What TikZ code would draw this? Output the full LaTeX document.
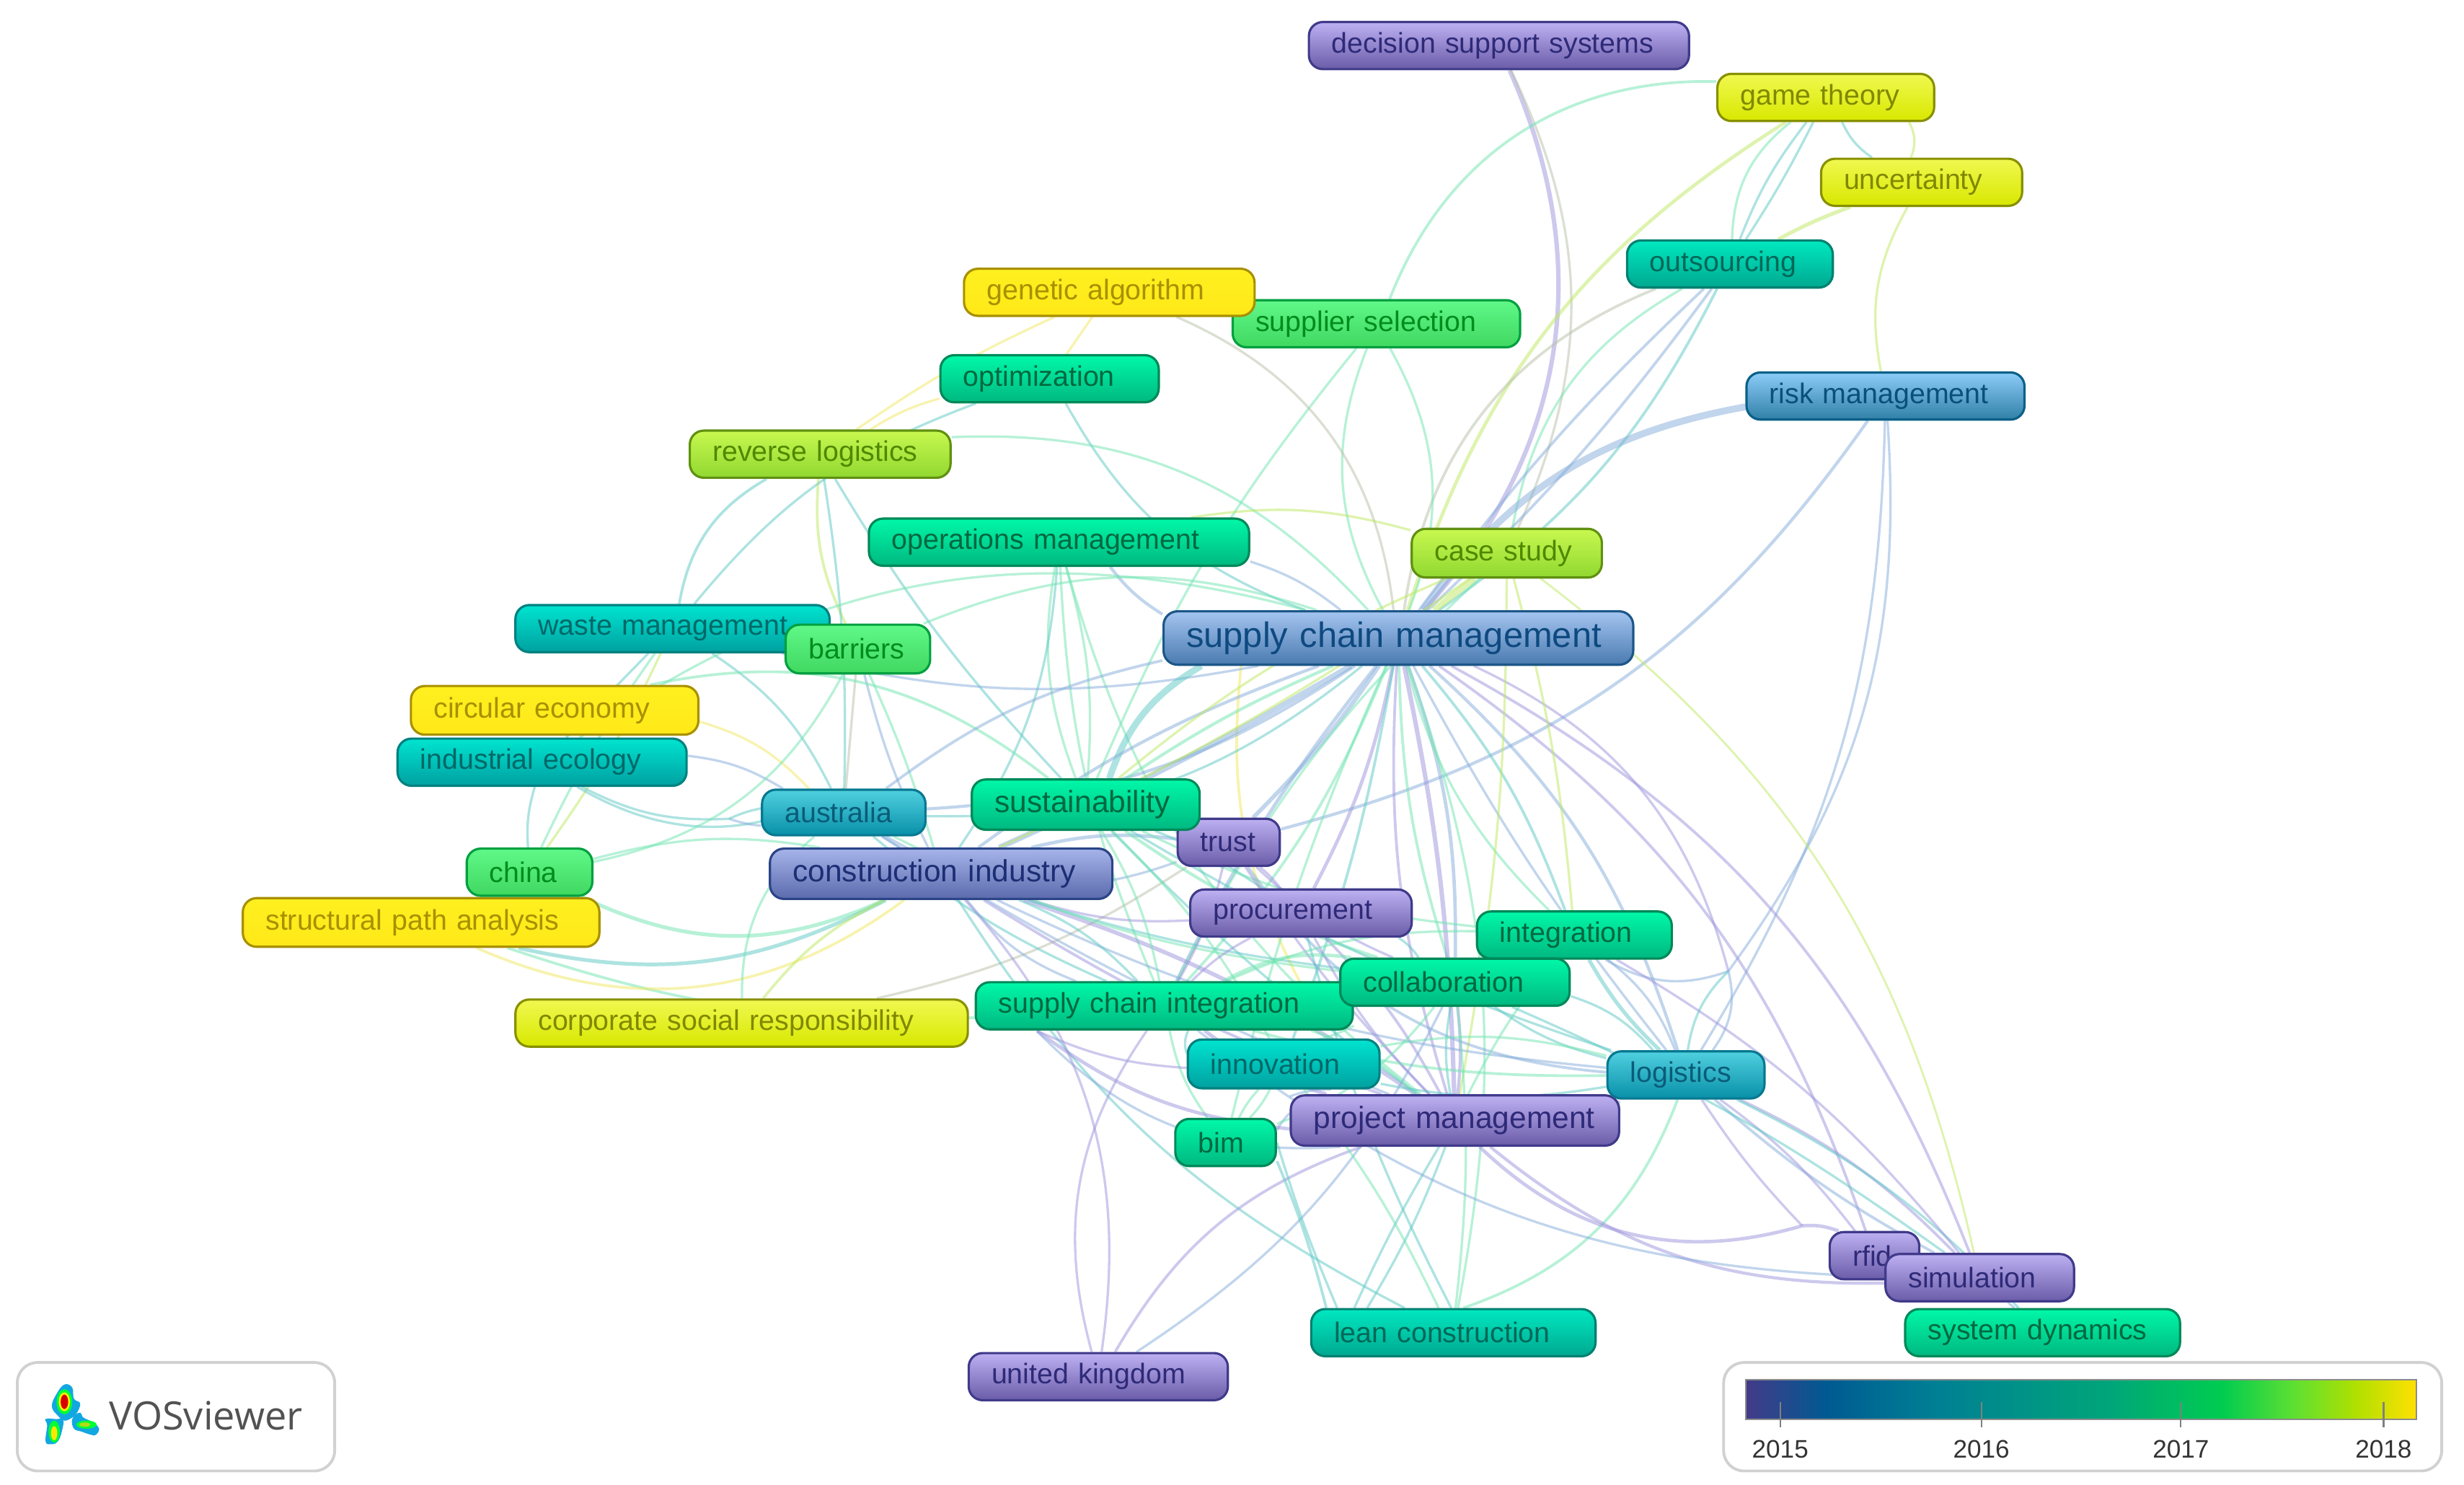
\documentclass[tikz,border=0pt]{standalone}
\usepackage{fontspec}
\setmainfont{Liberation Sans}
\newfontfamily\vosfont{Open Sans}
\usetikzlibrary{backgrounds}

% keyword box colours: top, bottom, border, text
\definecolor{purpleTop}{HTML}{BDB0F2}\definecolor{purpleBot}{HTML}{6A5CA8}\definecolor{purpleEdge}{HTML}{403A8A}\definecolor{purpleTxt}{HTML}{2E2A78}
\definecolor{slateTop}{HTML}{A6B4EA}\definecolor{slateBot}{HTML}{5A6AAC}\definecolor{slateEdge}{HTML}{2C4488}\definecolor{slateTxt}{HTML}{1C2E74}
\definecolor{blueTop}{HTML}{A4C4F0}\definecolor{blueBot}{HTML}{4A7AB0}\definecolor{blueEdge}{HTML}{1C5688}\definecolor{blueTxt}{HTML}{0E4A80}
\definecolor{skyTop}{HTML}{8CCCF8}\definecolor{skyBot}{HTML}{3080A8}\definecolor{skyEdge}{HTML}{0A6088}\definecolor{skyTxt}{HTML}{0A5078}
\definecolor{cyanTop}{HTML}{50D0E0}\definecolor{cyanBot}{HTML}{0890A8}\definecolor{cyanEdge}{HTML}{087890}\definecolor{cyanTxt}{HTML}{0A5C78}
\definecolor{tealTop}{HTML}{00E4D0}\definecolor{tealBot}{HTML}{00A0A0}\definecolor{tealEdge}{HTML}{008080}\definecolor{tealTxt}{HTML}{006868}
\definecolor{seaTop}{HTML}{00E8C0}\definecolor{seaBot}{HTML}{00A890}\definecolor{seaEdge}{HTML}{008070}\definecolor{seaTxt}{HTML}{006858}
\definecolor{greenTop}{HTML}{00F8A8}\definecolor{greenBot}{HTML}{00B880}\definecolor{greenEdge}{HTML}{008858}\definecolor{greenTxt}{HTML}{006840}
\definecolor{leafTop}{HTML}{60F888}\definecolor{leafBot}{HTML}{40D860}\definecolor{leafEdge}{HTML}{00A040}\definecolor{leafTxt}{HTML}{008C1E}
\definecolor{limeTop}{HTML}{C8F850}\definecolor{limeBot}{HTML}{90D830}\definecolor{limeEdge}{HTML}{609010}\definecolor{limeTxt}{HTML}{508800}
\definecolor{oliveTop}{HTML}{F0F850}\definecolor{oliveBot}{HTML}{D8E800}\definecolor{oliveEdge}{HTML}{889000}\definecolor{oliveTxt}{HTML}{808800}
\definecolor{yellowTop}{HTML}{FFF020}\definecolor{yellowBot}{HTML}{FFE818}\definecolor{yellowEdge}{HTML}{A89000}\definecolor{yellowTxt}{HTML}{A89000}

% link colours
\definecolor{lkpurple}{HTML}{9C94DC}
\definecolor{lkblue}{HTML}{84ACDA}
\definecolor{lkteal}{HTML}{5CC8C4}
\definecolor{lkgreen}{HTML}{70E4B0}
\definecolor{lklime}{HTML}{BEE860}
\definecolor{lkyellow}{HTML}{F0E860}
\definecolor{lkgrey}{HTML}{B8C0A8}

% year scale
\definecolor{yrA}{HTML}{443A88}\definecolor{yrB}{HTML}{005A92}\definecolor{yrC}{HTML}{007F94}
\definecolor{yrD}{HTML}{00A57A}\definecolor{yrE}{HTML}{00CC50}\definecolor{yrF}{HTML}{60E030}
\definecolor{yrG}{HTML}{B0E000}\definecolor{yrH}{HTML}{FFE000}
\pgfdeclarehorizontalshading{yearbar}{100bp}{color(0bp)=(yrA); color(25bp)=(yrA); color(31bp)=(yrB);
  color(39bp)=(yrC); color(52bp)=(yrD); color(60.5bp)=(yrE); color(66bp)=(yrF); color(70.5bp)=(yrG);
  color(75bp)=(yrH); color(100bp)=(yrH)}

\tikzset{
  kw/.style n args={3}{rounded corners=5.5pt, line width=0.9pt, inner xsep=9pt, inner ysep=0pt,
    top color=#1Top, bottom color=#1Bot, draw=#1Edge, text=#1Txt, font=\fontsize{11.2}{13}\selectfont,
    minimum width=#2*0.6198pt, minimum height=#3*0.6198pt, text width=#2*0.6198pt-18pt, align=left},
  kwmid/.style={font=\fontsize{12.1}{14}\selectfont},
  kwbig/.style={font=\fontsize{13.9}{16}\selectfont},
  link/.style={opacity=0.5},
  legbox/.style={draw=black!18, line width=1.1pt, rounded corners=8pt, fill=white},
  yearlab/.style={text=black!80, font=\fontsize{10}{12}\selectfont, inner sep=0pt},
}

\begin{document}
\begin{tikzpicture}[x=0.02179cm, y=-0.02179cm]
    \useasboundingbox (0,0) rectangle (1568.2,944.9);

    % free ends where links pinch together
    \coordinate (pinchE) at (1100,618);
    \coordinate (pinchW) at (464,521);
    \coordinate (pinchS) at (660,656);
    \coordinate (pinchR) at (1147,780);
    \coordinate (pinchN) at (790,423);
    \coordinate (pinchO) at (830,630);

    % keywords, later ones lie on top
    \node[kw={purple}{242}{30}] (dss) at (954,29) {decision support systems};
    \node[kw={olive}{138}{30}] (game) at (1162,62) {game theory};
    \node[kw={olive}{128}{30}] (uncert) at (1223,116) {uncertainty};
    \node[kw={sea}{131}{30}] (outsrc) at (1101,168) {outsourcing};
    \node[kw={leaf}{183}{30}] (suppl) at (876,206) {supplier selection};
    \node[kw={yellow}{185}{30}] (genalg) at (706,186) {genetic algorithm};
    \node[kw={green}{139}{30}] (optim) at (668,241) {optimization};
    \node[kw={sky}{177}{30}] (risk) at (1200,252) {risk management};
    \node[kw={lime}{166}{30}] (revlog) at (522,289) {reverse logistics};
    \node[kw={green}{242}{30}] (opsmgt) at (674,345) {operations management};
    \node[kw={lime}{121}{31}] (casest) at (959,352) {case study};
    \node[kw={teal}{200}{30}] (waste) at (428,400) {waste management};
    \node[kw={leaf}{92}{31}] (barr) at (546,413) {barriers};
    \node[kw={blue}{299}{34}, kwbig] (scm) at (890,406) {supply chain management};
    \node[kw={yellow}{183}{31}] (circ) at (353,452) {circular economy};
    \node[kw={teal}{184}{30}] (indeco) at (345,485) {industrial ecology};
    \node[kw={cyan}{104}{29}] (aus) at (537,517) {australia};
    \node[kw={purple}{65}{30}] (trust) at (782,536) {trust};
    \node[kw={green}{145}{32}, kwmid] (sust) at (691,512) {sustainability};
    \node[kw={slate}{218}{32}, kwmid] (cind) at (599,556) {construction industry};
    \node[kw={yellow}{227}{31}] (spa) at (268,587) {structural path analysis};
    \node[kw={leaf}{80}{30}] (china) at (337,555) {china};
    \node[kw={purple}{141}{30}] (proc) at (828,581) {procurement};
    \node[kw={green}{124}{30}] (integ) at (1002,595) {integration};
    \node[kw={green}{240}{30}] (sci) at (741,640) {supply chain integration};
    \node[kw={green}{146}{30}] (collab) at (926,625) {collaboration};
    \node[kw={olive}{288}{30}] (csr) at (472,651) {corporate social responsibility};
    \node[kw={teal}{122}{31}] (innov) at (817,677) {innovation};
    \node[kw={purple}{209}{32}, kwmid] (pm) at (926,713) {project management};
    \node[kw={cyan}{100}{30}] (logis) at (1073,684) {logistics};
    \node[kw={green}{64}{30}] (bim) at (780,727) {bim};
    \node[kw={purple}{57}{30}] (rfid) at (1193,799) {rfid};
    \node[kw={purple}{120}{30}] (simul) at (1260,813) {simulation};
    \node[kw={sea}{181}{30}] (lean) at (925,848) {lean construction};
    \node[kw={green}{175}{30}] (sysdyn) at (1300,848) {system dynamics};
    \node[kw={purple}{165}{30}] (uk) at (699,876) {united kingdom};

    % links: from/to/bend/colour/width
    \begin{scope}[on background layer]
    \foreach \frm/\tom/\bnd/\lkc/\lkw in {
        % top right
        dss/scm/33/lkpurple/1.3, dss/casest/25/lkgrey/0.7, game/scm/-20/lklime/1.0, game/suppl/-35/lkgreen/0.8,
        game/uncert/-15/lkteal/0.7, game/uncert/25/lklime/0.7, game/outsrc/-8/lkteal/0.7, game/outsrc/3/lkteal/0.7,
        game/outsrc/-25/lkgreen/0.7, uncert/outsrc/-4/lklime/1.1, uncert/risk/-20/lklime/0.7,
        outsrc/scm/-30/lkgrey/0.8, outsrc/casest/-25/lkgreen/0.7, outsrc/scm/-5/lkblue/0.8, outsrc/scm/5/lkblue/0.8,
        outsrc/scm/14/lkteal/0.8, risk/scm/-22/lkblue/2.0, risk/trust/20/lkblue/0.9, risk/logis/15/lkblue/0.7,
        risk/pinchE/20/lkblue/0.7, casest/scm/0/lklime/1.8, casest/simul/20/lklime/0.6,
        % top centre and left
        suppl/scm/25/lkgreen/0.7, suppl/scm/-25/lkgreen/0.7, suppl/sust/-8/lkgreen/0.7,
        genalg/scm/30/lkgrey/0.7, genalg/optim/0/lkyellow/0.7, genalg/revlog/-5/lkyellow/0.7, pinchN/pinchO/-17/lkyellow/0.8,
        optim/scm/-20/lkteal/0.7, revlog/scm/25/lkgreen/0.7, revlog/optim/8/lkyellow/0.7, revlog/barr/-15/lklime/0.8,
        revlog/waste/-25/lkteal/0.8, revlog/sust/-6/lkteal/0.7, revlog/aus/5/lkteal/0.7, waste/optim/15/lkteal/0.7,
        opsmgt/casest/12/lklime/0.7, opsmgt/scm/-10/lkblue/0.9, opsmgt/scm/10/lkblue/0.7, opsmgt/sust/10/lkgreen/0.7,
        opsmgt/sust/-15/lkgreen/0.7, opsmgt/sci/-10/lkgreen/0.7, opsmgt/cind/15/lkteal/0.7, opsmgt/pm/-18/lkgreen/0.7,
        waste/aus/15/lkteal/0.7, waste/china/5/lklime/0.7, waste/indeco/0/lkteal/0.7, waste/scm/-12/lkblue/0.7,
        barr/aus/0/lkgrey/0.7, barr/cind/4/lkgreen/0.7, barr/cind/-6/lkblue/0.7, barr/scm/20/lkgreen/0.7,
        % far left
        aus/scm/-15/lkblue/0.9, aus/scm/-20/lkteal/0.7, aus/trust/-25/lkblue/0.7, circ/sust/25/lkgreen/0.8,
        circ/aus/15/lkyellow/0.7, indeco/aus/12/lkblue/0.7, indeco/aus.north/-30/lkteal/0.7,
        indeco/pinchW/-15/lkteal/0.7, aus/pinchW/6/lkblue/0.7, aus/pinchW/-6/lkteal/0.7,
        china/indeco/10/lkteal/0.7, china/waste/5/lkgreen/0.7, china/barr/-25/lkgreen/0.7, china/cind/12/lkgreen/0.7,
        china/cind/-25/lkgreen/1.1, spa/cind/-20/lkteal/1.1, spa/sci/-10/lkgreen/0.8, spa/cind/-30/lkyellow/0.8,
        csr/cind/12/lklime/0.8, csr/aus/25/lkgreen/0.7, csr/trust/-10/lkgrey/0.7,
        % hub
        scm/sust/-20/lkteal/1.9, scm/sust/-5/lkgreen/0.9, scm/cind/3/lkblue/1.6, scm/cind/-8/lkblue/0.9,
        scm/trust/5/lkblue/1.2, scm/aus/-12/lkblue/0.8, scm/proc/8/lkpurple/1.0, scm/sci/-6/lkblue/1.0,
        scm/sci/10/lkgreen/0.8, scm/collab/10/lkblue/1.0, scm/collab/-8/lkgreen/0.8, scm/integ/10/lkteal/0.8,
        scm/integ/-15/lkgreen/0.7, scm/innov/5/lkteal/0.8, scm/pm/5/lkpurple/1.3, scm/pm/-10/lkpurple/0.8,
        scm/logis/15/lkblue/0.9, scm/logis/-5/lkblue/0.7, scm/lean/15/lkgreen/0.7, scm/bim/-5/lkgreen/0.7,
        scm/indeco/-25/lkgreen/0.7, scm/rfid/18/lkpurple/0.8, scm/simul/20/lkpurple/0.8, scm/pinchE/25/lkpurple/0.7,
        casest/integ/5/lklime/0.7, casest/sust/-8/lklime/0.7, casest/cind/5/lklime/0.7, casest/pm/5/lklime/0.7,
        casest/sci/-10/lkgreen/0.7,
        % centre mesh
        cind/pm/8/lkpurple/1.2, cind/pm/-6/lkpurple/0.8, cind/logis/-10/lkblue/0.7, cind/sci/12/lkteal/0.7,
        cind/sci/-15/lkblue/0.7, cind/proc/-10/lkpurple/0.7, cind/collab/-5/lkteal/0.7, cind/lean/-15/lkteal/0.7,
        cind/trust/10/lkblue/1.0, sust/collab/-8/lkgreen/0.9, sust/sci/10/lkgreen/0.7, sust/pm/-5/lkteal/0.7,
        sust/innov/8/lkgreen/0.7, sust/proc/6/lkteal/0.7, sust/integ/-10/lkgreen/0.7, sust/logis/-6/lkteal/0.7,
        aus/pm/-5/lkblue/0.7, aus/sci/-8/lkteal/0.7, aus/collab/-10/lkgreen/0.7, aus/cind/0/lkblue/0.7,
        trust/proc/6/lkpurple/0.7, trust/collab/-10/lkpurple/0.7, trust/pm/-5/lkpurple/0.7, trust/sci/8/lkpurple/0.7,
        trust/logis/-25/lkblue/0.8, proc/pm/8/lkpurple/0.8, proc/pm/-8/lkpurple/0.7, proc/sci/-8/lkpurple/0.7,
        proc/collab/10/lkteal/0.7, integ/collab/15/lkgreen/0.7, integ/pm/-6/lkgreen/0.7, integ/sci/-12/lkgreen/0.7,
        integ/logis/-8/lkteal/1.1, integ/logis/15/lkblue/0.7, integ/pinchE/-25/lkblue/0.7, collab/logis/-10/lkteal/0.7,
        collab/logis/15/lkteal/0.7, collab/pm/6/lkpurple/0.9, collab/pm/-10/lkteal/0.7, sci/pm/-10/lkpurple/1.1,
        sci/pm/12/lkgreen/0.8, sci/innov/20/lkgreen/0.7, sci/innov/-20/lkteal/0.7, sci/logis/-8/lkgreen/0.8,
        sci/collab/18/lkgreen/1.0, innov/pm/-10/lkblue/0.7, innov/bim/8/lkgreen/0.7, innov/bim/-8/lkgreen/0.7,
        innov/logis/12/lkgreen/0.7, innov/logis/-10/lkteal/0.7, bim/pm/8/lkblue/0.7, bim/sci/12/lkgreen/0.7,
        bim/collab/-15/lkgreen/0.7, logis/pm/5/lkblue/0.7, logis/pinchE/-25/lkblue/0.7, logis/pinchE/18/lkteal/0.7,
        pinchS/pm/-15/lkpurple/1.0, pinchS/pm/-25/lkblue/0.7, pinchS/innov/-10/lkpurple/0.7,
        % bottom
        uk/sci/25/lkpurple/0.7, uk/cind/-25/lkpurple/0.7, uk/pm/20/lkpurple/0.8, uk/collab/-15/lkblue/0.7,
        lean.169/bim.-20/-4/lkteal/0.8, lean.168/bim.east/3/lkteal/0.7, lean.166/pm/3/lkteal/0.7, lean.164/pm/-5/lkteal/0.7,
        lean.121/innov/-6/lkgreen/0.7, lean.85/collab/-6/lkgreen/0.7, lean.68/logis/-25/lkgreen/0.8, lean.95/proc/6/lkteal/0.7,
        pm/pinchR/-30/lkpurple/1.0, pinchR/rfid/12/lkpurple/1.0, pm/simul/-20/lkpurple/0.9, sci/simul/-18/lkblue/0.7,
        logis/simul/10/lkpurple/0.8, logis/pinchR/-5/lkpurple/0.7,
        logis/simul/-6/lkblue/0.8, logis/rfid/8/lkpurple/0.7, logis/sysdyn/10/lkteal/0.7, collab/simul/6/lkteal/0.7,
        integ/simul/10/lkpurple/0.7, rfid/simul/0/lkpurple/0.7, sysdyn/simul/0/lkblue/0.7} {
      \draw[link, color=\lkc, line width=1.35*\lkw pt] (\frm) to[bend left=\bnd] (\tom);
    }
    \end{scope}

    % logo box
    \draw[legbox] (11,867) rectangle (213,936);
    \fill[cyan!85!teal] plot[smooth cycle, tension=0.7]
        coordinates {(41,881) (46,883) (47,890) (51,893) (49,899) (46,902) (41,904) (37,901) (33,895) (36,887)};
    \fill[cyan!85!teal] plot[smooth cycle, tension=0.7]
        coordinates {(36,903) (40,903) (40,908) (37,917) (32,919) (29,917) (30,907) (29,903)};
    \fill[cyan!85!teal] plot[smooth cycle, tension=0.7]
        coordinates {(50,899) (52,900) (53,902) (59,905) (63,909) (61,913) (58,913) (52,911) (47,909) (46,903)};
    \fill[green!80!cyan] (41,892) ellipse (5 and 8);
    \fill[yellow] (41,892) ellipse (3.6 and 6);
    \fill[red!85!black] (41,892) ellipse (2.4 and 4.6);
    \fill[green!80!cyan] (34.5,911) ellipse (3.6 and 7);
    \fill[yellow!90!orange] (34.5,912) ellipse (2 and 4.5);
    \fill[green!80!cyan] (55,906.5) ellipse (6.5 and 2.6);
    \fill[yellow!70!green] (54,906.5) ellipse (3.5 and 1.4);
    \node[text=black!68, font=\vosfont\fontsize{15.4}{18}\selectfont, inner sep=0pt] (vostext) at (131,901) {VOSviewer};

    % year scale
    \draw[legbox] (1097,867) rectangle (1554,936);
    \shade[shading=yearbar, draw=black!45, line width=0.6pt] (1111,878) rectangle (1538,903);
    \foreach \yr/\tx in {2015/1133, 2016/1261, 2017/1388, 2018/1517} {
      \draw[black!50, line width=0.6pt] (\tx,892) -- (\tx,908);
      \node[yearlab] (y\yr) at (\tx,922) {\yr};
    }
\end{tikzpicture}
\end{document}
